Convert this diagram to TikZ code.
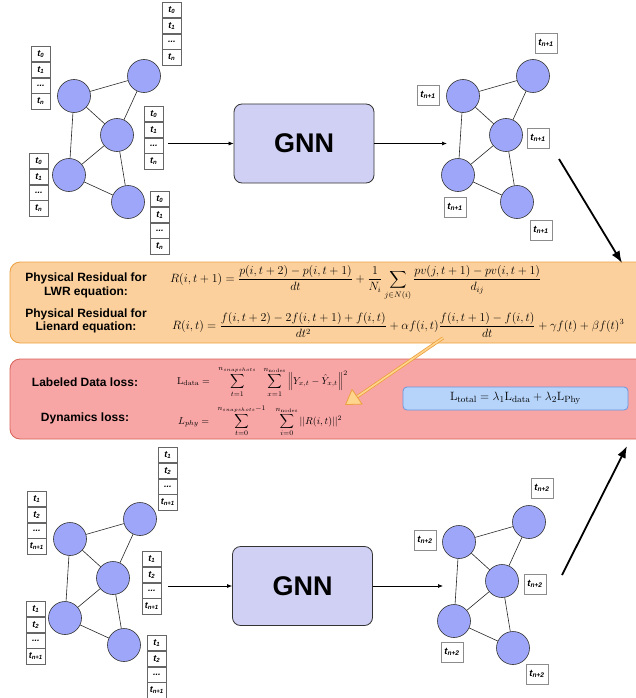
\documentclass[tikz,border=0pt]{standalone}
\usepackage{amsmath, amssymb}
\usepackage[no-math]{fontspec}
\setmainfont{Liberation Sans}
\usetikzlibrary{positioning, arrows.meta}

\definecolor{nodeblue}{RGB}{158,166,250}
\definecolor{gnnfill}{RGB}{208,208,245}
\definecolor{orangefill}{RGB}{252,208,156}
\definecolor{orangeline}{RGB}{236,160,64}
\definecolor{pinkfill}{RGB}{248,165,165}
\definecolor{pinkline}{RGB}{214,98,88}
\definecolor{bluefill}{RGB}{182,212,250}
\definecolor{blueline}{RGB}{108,150,222}
\definecolor{arrowfill}{RGB}{255,212,140}

\tikzset{
  gnode/.style={circle, draw=black!80, fill=nodeblue, minimum size=33pt, inner sep=0pt, line width=0.6pt},
  gedge/.style={draw=black!85, line width=0.6pt},
  tcell/.style={draw=black!60, fill=white, minimum width=19pt, minimum height=15.2pt, inner sep=0pt, line width=0.6pt,
    font=\fontsize{9}{9}\selectfont\bfseries\itshape},
  tlabel/.style={draw=black!45, fill=white, minimum width=22pt, minimum height=20pt, inner sep=0pt, line width=0.6pt,
    font=\fontsize{9.5}{9.5}\selectfont\bfseries\itshape},
  gnnbox/.style={draw=black!80, fill=gnnfill, rounded corners=8pt, minimum width=140pt, minimum height=79pt,
    line width=0.8pt, font=\fontsize{27}{30}\selectfont\bfseries},
  sidetext/.style={align=center, font=\fontsize{12}{13.5}\selectfont\bfseries},
  eqtext/.style={anchor=west, inner sep=0pt, font=\fontsize{12}{14}\selectfont},
  losstext/.style={anchor=west, inner sep=0pt, font=\fontsize{10}{12}\selectfont},
  flow/.style={-{Latex[length=5pt,width=4pt]}, line width=0.7pt},
  bigflow/.style={-{Latex[length=12pt,width=9pt]}, line width=1.8pt},
  hollowflow/.style={draw=orangeline, double=arrowfill, double distance=1.6pt, line width=0.8pt,
    -{Triangle[length=15pt,width=19pt,fill=arrowfill]}},
}

% t with subscript
\newcommand{\tsub}[1]{t\textsubscript{#1}}
% column of time cells: name, x, y, first, second, last
\newcommand{\tstack}[6]{%
  \node[tcell, anchor=north west] (#1-1) at (#2,#3) {#4};
  \node[tcell, below=0pt of #1-1] (#1-2) {#5};
  \node[tcell, below=0pt of #1-2] (#1-3) {...};
  \node[tcell, below=0pt of #1-3] (#1-4) {#6};
}

\begin{document}
\begin{tikzpicture}[x=1pt,y=1pt,yscale=-1,xscale=1]
\useasboundingbox (0,0) rectangle (636,698);

% graph nodes
\foreach \g/\dx/\dy in {tl/74/96, tr/463/96, bl/70/539, br/459/542} {
  \begin{scope}[shift={(\dx,\dy)}]
    \node[gnode] (\g A) at (0,0) {};
    \node[gnode] (\g B) at (70,-20) {};
    \node[gnode] (\g C) at (43,39) {};
    \node[gnode] (\g D) at (-5,79) {};
    \node[gnode] (\g E) at (54,106) {};
  \end{scope}
}
% graph edges
\foreach \g in {tl,tr,bl,br}
  \foreach \a/\b in {A/B, A/C, B/C, A/D, C/D, C/E, D/E}
    \draw[gedge] (\g\a) -- (\g\b);

% input time cells, top
\tstack{ta}{31}{46}{\tsub{0}}{\tsub{1}}{\tsub{n}}
\tstack{tb}{162}{2}{\tsub{0}}{\tsub{1}}{\tsub{n}}
\tstack{tc}{144}{106}{\tsub{0}}{\tsub{1}}{\tsub{n}}
\tstack{td}{29}{153}{\tsub{0}}{\tsub{1}}{\tsub{n}}
\tstack{te}{150}{191}{\tsub{0}}{\tsub{1}}{\tsub{n}}

% input time cells, bottom
\tstack{ba}{27}{491}{\tsub{1}}{\tsub{2}}{\tsub{n+1}}
\tstack{bb}{158}{447}{\tsub{1}}{\tsub{2}}{\tsub{n+1}}
\tstack{bc}{142}{551}{\tsub{1}}{\tsub{2}}{\tsub{n+1}}
\tstack{bd}{26}{601}{\tsub{1}}{\tsub{2}}{\tsub{n+1}}
\tstack{be}{147}{635}{\tsub{1}}{\tsub{2}}{\tsub{n+1}}

% predicted labels
\node[tlabel] (pa) at (428,95) {\tsub{n+1}};
\node[tlabel] (pb) at (546,43) {\tsub{n+1}};
\node[tlabel] (pc) at (538,138) {\tsub{n+1}};
\node[tlabel] (pd) at (455,207) {\tsub{n+1}};
\node[tlabel] (pe) at (541,230) {\tsub{n+1}};
\node[tlabel] (qa) at (425,540) {\tsub{n+2}};
\node[tlabel] (qb) at (542,488) {\tsub{n+2}};
\node[tlabel] (qc) at (535,584) {\tsub{n+2}};
\node[tlabel] (qd) at (452,652) {\tsub{n+2}};
\node[tlabel] (qe) at (537,674) {\tsub{n+2}};

% GNN blocks
\node[gnnbox] (gnn1) at (304,143.5) {GNN};
\node[gnnbox] (gnn2) at (302.5,586) {GNN};
\coordinate (in1) at (168,143.5);
\coordinate (out1) at (447,143.5);
\coordinate (in2) at (168,586);
\coordinate (out2) at (443,586);
\draw[flow] (in1) -- (gnn1.west);
\draw[flow] (gnn1.east) -- (out1);
\draw[flow] (in2) -- (gnn2.west);
\draw[flow] (gnn2.east) -- (out2);

% residual panel
\draw[draw=orangeline, fill=orangefill, rounded corners=10pt, line width=0.8pt] (10,262) rectangle (660,343);
\node[sidetext] (lwr) at (86,285.5) {Physical Residual for\\LWR equation:};
\node[sidetext] (lie) at (86,321) {Physical Residual for\\Lienard equation:};
\node[eqtext] (eqlwr) at (170,283) {$\displaystyle R(i,t+1)=\frac{p(i,t+2)-p(i,t+1)}{dt}+\frac{1}{N_i}\sum_{j\in N(i)}\frac{pv(j,t+1)-pv(i,t+1)}{d_{ij}}$};
\node[eqtext, font=\fontsize{11.6}{14}\selectfont] (eqlie) at (172,325) {$\displaystyle R(i,t)=\frac{f(i,t+2)-2f(i,t+1)+f(i,t)}{dt^2}+\alpha f(i,t)\frac{f(i,t+1)-f(i,t)}{dt}+\gamma f(t)+\beta f(t)^3$};

% loss panel
\draw[draw=pinkline, fill=pinkfill, rounded corners=10pt, line width=0.8pt] (10,359) rectangle (660,439);
\node[sidetext] (ldata) at (85,382) {Labeled Data loss:};
\node[sidetext] (ldyn) at (85,418) {Dynamics loss:};
\node[losstext] (eqdata) at (177,382) {$\displaystyle \mathrm{L}_{\mathrm{data}}=\;\;\sum_{t=1}^{n_{snapshots}}\;\;\sum_{x=1}^{n_{\mathrm{nodes}}}\left\|Y_{x,t}-\hat{Y}_{x,t}\right\|^2$};
\node[losstext] (eqphy) at (178,421) {$\displaystyle L_{phy}=\;\;\sum_{t=0}^{n_{snapshots}-1}\;\;\;\sum_{i=0}^{n_{\mathrm{nodes}}}||R(i,t)||^2$};
\node[draw=blueline, fill=bluefill, rounded corners=4pt, minimum width=225pt, minimum height=23pt, line width=0.8pt,
  font=\fontsize{12.5}{14}\selectfont] (ltotal) at (515.5,398.5)
  {$\mathrm{L}_{\mathrm{total}}=\lambda_1\mathrm{L}_{\mathrm{data}}+\lambda_2\mathrm{L}_{\mathrm{Phy}}$};

% residual feeds the loss
\coordinate (phyout) at (443,338);
\coordinate (losshead) at (345,405);
\draw[hollowflow] (phyout) -- (losshead);

% flow between stages
\coordinate (predtop) at (559,159);
\coordinate (residtop) at (622,263);
\coordinate (predbot) at (562,575);
\coordinate (losstop) at (627,446);
\draw[bigflow] (predtop) -- (residtop);
\draw[bigflow] (predbot) -- (losstop);
\end{tikzpicture}
\end{document}
